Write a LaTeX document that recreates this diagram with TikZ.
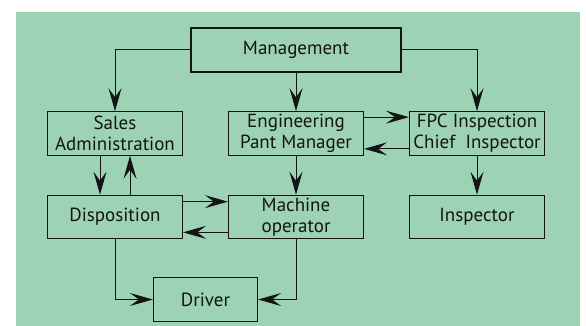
\documentclass[tikz,border=0pt]{standalone}
\usepackage{fontspec}
\setmainfont{PT Sans}
\usetikzlibrary{positioning,arrows.meta}
\definecolor{chartgreen}{RGB}{158,210,180}
\definecolor{inkgray}{RGB}{20,20,20}
\begin{document}
\begin{tikzpicture}[box/.style={draw=inkgray,line width=1.2pt,minimum width=135pt,minimum height=43.5pt,inner sep=0pt,align=center,text=inkgray,font=\fontsize{19pt}{21pt}\selectfont},
	link/.style={draw=inkgray,line width=1pt,-{Stealth[length=23pt,width=13pt,inset=9pt]}}]

	\useasboundingbox (0pt,0pt) rectangle (586pt,-326pt);
	\fill[chartgreen] (16pt,-12pt) rectangle (580pt,-326pt);

	\node[box, minimum width=210pt, minimum height=44pt] (mgmt) at (296pt,-50pt) {Management};
	\node[box] (eng) [below of=mgmt, node distance=83.5pt] {Engineering\\Pant Manager};
	\node[box] (sales) [left of=eng, node distance=181pt] {Sales\\Administration};
	\node[box] (fpc) [right of=eng, node distance=181pt] {FPC Inspection\\Chief\ \ Inspector};
	\node[box] (disp) [below of=sales, node distance=83.5pt] {Disposition};
	\node[box] (mach) [below of=eng, node distance=83.5pt] {Machine\\operator};
	\node[box] (insp) [below of=fpc, node distance=83.5pt] {Inspector};
	\node[box, minimum width=104pt] (driver) [below of=disp, node distance=82.5pt, xshift=90.5pt] {Driver};

	% management down to the three departments
	\draw[link] (mgmt.west) -| (sales.north);
	\draw[link] (mgmt) -- (eng);
	\draw[link] (mgmt.east) -| (fpc.north);

	% engineering <-> inspection
	\draw[link] ([yshift=-6pt]eng.north east) -- ([yshift=-6pt]fpc.north west);
	\draw[link] ([yshift=7pt]fpc.south west) -- ([yshift=7pt]eng.south east);

	% sales <-> disposition
	\draw[link] ([xshift=-15pt]sales.south) -- ([xshift=-15pt]disp.north);
	\draw[link] ([xshift=15pt]disp.north) -- ([xshift=15pt]sales.south);

	% disposition <-> machine operator
	\draw[link] ([yshift=-7pt]disp.north east) -- ([yshift=-7pt]mach.north west);
	\draw[link] ([yshift=7pt]mach.south west) -- ([yshift=7pt]disp.south east);

	\draw[link] (eng) -- (mach);
	\draw[link] (fpc) -- (insp);

	% both feed the driver
	\draw[link] (disp.south) |- (driver.west);
	\draw[link] (mach.south) |- (driver.east);

\end{tikzpicture}
\end{document}
